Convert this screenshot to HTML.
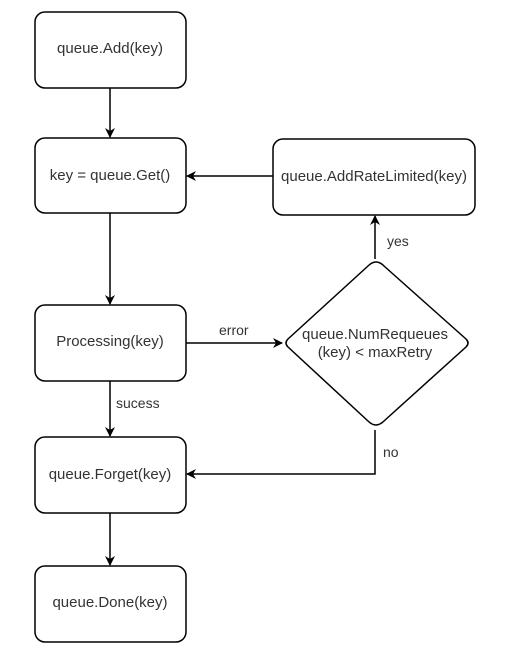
<!DOCTYPE html>
<html><head><style>body{margin:0;background:#fff}</style></head><body>
<svg width="526" height="657" viewBox="0 0 526 657" xmlns="http://www.w3.org/2000/svg" font-family="Liberation Sans, sans-serif" font-size="15" fill="#333">
<defs><marker id="a" markerWidth="10" markerHeight="10" refX="9" refY="5" orient="auto" markerUnits="userSpaceOnUse"><path d="M0,0 L10,5 L0,10 L3,5 Z" fill="#000"/></marker></defs>
<g fill="none" stroke="#000" stroke-width="1.5">
<rect x="35" y="12" width="151" height="76" rx="10"/>
<rect x="35" y="138" width="151" height="75" rx="10"/>
<rect x="35" y="305" width="151" height="76" rx="10"/>
<rect x="35" y="437" width="151" height="76" rx="10"/>
<rect x="35" y="566" width="151" height="76" rx="10"/>
<rect x="273" y="139" width="202" height="76" rx="10"/>
<path d="M376,262 Q380,262 384,266 L466,339 Q470,343 466,347 L384,421 Q380,425 376,425 Q372,425 368,421 L288,347 Q284,343 288,339 L368,266 Q372,262 376,262 Z"/>
<line x1="110" y1="88" x2="110" y2="137" marker-end="url(#a)"/>
<line x1="110" y1="213" x2="110" y2="304" marker-end="url(#a)"/>
<line x1="110" y1="381" x2="110" y2="436" marker-end="url(#a)"/>
<line x1="110" y1="513" x2="110" y2="565" marker-end="url(#a)"/>
<line x1="273" y1="176" x2="187" y2="176" marker-end="url(#a)"/>
<line x1="186" y1="343" x2="282" y2="343" marker-end="url(#a)"/>
<line x1="375" y1="259" x2="375" y2="216" marker-end="url(#a)"/>
<polyline points="375,430 375,474 187,474" marker-end="url(#a)"/>
</g>
<g text-anchor="middle">
<text x="110" y="53">queue.Add(key)</text>
<text x="110" y="180">key = queue.Get()</text>
<text x="110" y="346">Processing(key)</text>
<text x="110" y="479">queue.Forget(key)</text>
<text x="110" y="607">queue.Done(key)</text>
<text x="374" y="181">queue.AddRateLimited(key)</text>
<text x="375" y="339">queue.NumRequeues</text>
<text x="375" y="357">(key) &lt; maxRetry</text>
</g>
<text x="219" y="335" font-size="14">error</text>
<text x="387" y="246" font-size="14">yes</text>
<text x="116" y="408" font-size="14">sucess</text>
<text x="383" y="457" font-size="14">no</text>
</svg>
</body></html>
